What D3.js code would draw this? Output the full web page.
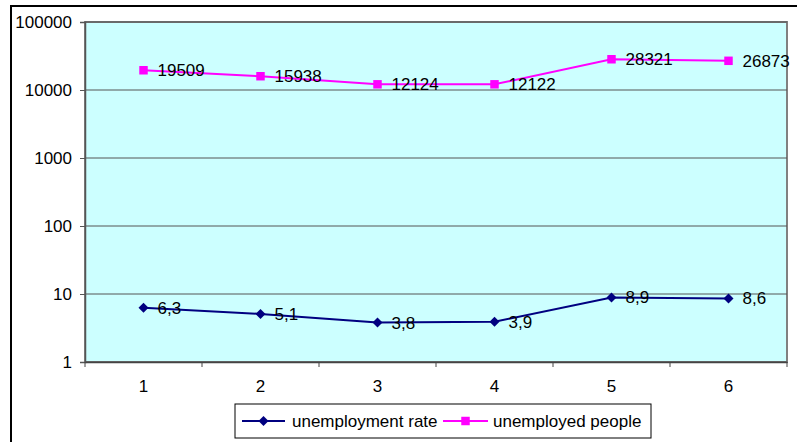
<!DOCTYPE html>
<html><head><meta charset="utf-8">
<script src="https://cdn.jsdelivr.net/npm/d3@7"></script>
<style>body{margin:0;background:#fff}svg{display:block;font-family:Arial,"Liberation Sans",sans-serif}</style>
</head><body><svg id="c" width="797" height="442"></svg>
<script>
const categories = ["1","2","3","4","5","6"];
const unemploymentRate = [6.3, 5.1, 3.8, 3.9, 8.9, 8.6];
const unemployedPeople = [19509, 15938, 12124, 12122, 28321, 26873];
const rateLabels = ["6,3","5,1","3,8","3,9","8,9","8,6"];
const peopleLabels = ["19509","15938","12124","12122","28321","26873"];
const yTicks = [1, 10, 100, 1000, 10000, 100000];

const svg = d3.select("#c");
const m = {l:85, t:22, r:787, b:362};
const x = d3.scaleBand().domain(categories).range([m.l, m.r]);
const y = d3.scaleLog().domain([1, 100000]).range([m.b, m.t]);
const cx = d => x(d) + x.bandwidth()/2;

// outer chart border (extends beyond view)
svg.append("rect").attr("x",11).attr("y",6).attr("width",800).attr("height",450)
  .attr("fill","#fff").attr("stroke","#000").attr("stroke-width",2);

// plot area
svg.append("rect").attr("x",m.l).attr("y",m.t).attr("width",m.r-m.l).attr("height",m.b-m.t)
  .attr("fill","#CCFFFF").attr("stroke","#808080").attr("stroke-width",2);

// gridlines
svg.append("g").selectAll("line").data(yTicks).join("line")
  .attr("x1",m.l).attr("x2",m.r).attr("y1",d=>y(d)).attr("y2",d=>y(d))
  .attr("stroke","#555").attr("stroke-width",1);

// y axis
const yAxis = d3.axisLeft(y).tickValues(yTicks).tickFormat(d3.format("d")).tickSize(5).tickPadding(8);
const gy = svg.append("g").attr("transform",`translate(${m.l},0)`).call(yAxis);
gy.select(".domain").attr("stroke","#555").attr("stroke-width",1.5);
gy.selectAll(".tick line").attr("stroke","#555");
gy.selectAll("text").attr("font-size",17).attr("fill","#000").attr("font-family","Arial, 'Liberation Sans', sans-serif");

// x axis
const xAxis = d3.axisBottom(x).tickSize(0).tickPadding(18);
const gx = svg.append("g").attr("transform",`translate(0,${m.b})`).call(xAxis);
gx.select(".domain").attr("stroke","#444").attr("stroke-width",1.5);
gx.selectAll("text").attr("font-size",17).attr("fill","#000").attr("font-family","Arial, 'Liberation Sans', sans-serif");
// x tick marks at category boundaries
const bounds = categories.map(c => x(c)).concat([x(categories[categories.length-1]) + x.bandwidth()]);
svg.append("g").selectAll("line").data(bounds).join("line")
  .attr("x1",d=>d).attr("x2",d=>d).attr("y1",m.b).attr("y2",m.b+5)
  .attr("stroke","#444").attr("stroke-width",1);

const line = d3.line().x(d=>cx(d.c)).y(d=>y(d.v));
const rateData = categories.map((c,i)=>({c, v:unemploymentRate[i], l:rateLabels[i]}));
const peopleData = categories.map((c,i)=>({c, v:unemployedPeople[i], l:peopleLabels[i]}));

// series lines
svg.append("path").datum(rateData).attr("d",line).attr("fill","none").attr("stroke","#000080").attr("stroke-width",2);
svg.append("path").datum(peopleData).attr("d",line).attr("fill","none").attr("stroke","#FF00FF").attr("stroke-width",2);

const square = d3.symbol().type(d3.symbolSquare).size(72);

svg.append("g").selectAll("path").data(rateData).join("path")
  .attr("d", d3.symbol().type(d3.symbolSquare).size(50))
  .attr("transform", d=>`translate(${cx(d.c)},${y(d.v)}) rotate(45)`)
  .attr("fill","#000080");
svg.append("g").selectAll("path").data(peopleData).join("path")
  .attr("d", square)
  .attr("transform", d=>`translate(${cx(d.c)},${y(d.v)})`)
  .attr("fill","#FF00FF");

// data labels
const lbl = (data) => svg.append("g").selectAll("text").data(data).join("text")
  .attr("x", d=>cx(d.c)+14).attr("y", d=>y(d.v)).attr("dy","0.35em")
  .attr("font-size",17).attr("fill","#000").text(d=>d.l);
lbl(rateData); lbl(peopleData);

// legend
const lg = svg.append("g");
lg.append("rect").attr("x",235).attr("y",404).attr("width",416).attr("height",34)
  .attr("fill","#fff").attr("stroke","#000").attr("stroke-width",1);
const ly = 421;
lg.append("line").attr("x1",242).attr("x2",285).attr("y1",ly).attr("y2",ly).attr("stroke","#000080").attr("stroke-width",2);
lg.append("path").attr("d", d3.symbol().type(d3.symbolSquare).size(50)).attr("transform",`translate(263.5,${ly}) rotate(45)`).attr("fill","#000080");
lg.append("text").attr("x",292).attr("y",ly).attr("dy","0.35em").attr("font-size",17).text("unemployment rate");
lg.append("line").attr("x1",443).attr("x2",488).attr("y1",ly).attr("y2",ly).attr("stroke","#FF00FF").attr("stroke-width",2);
lg.append("path").attr("d", square).attr("transform",`translate(465.5,${ly})`).attr("fill","#FF00FF");
lg.append("text").attr("x",493).attr("y",ly).attr("dy","0.35em").attr("font-size",17).text("unemployed people");
</script></body></html>
